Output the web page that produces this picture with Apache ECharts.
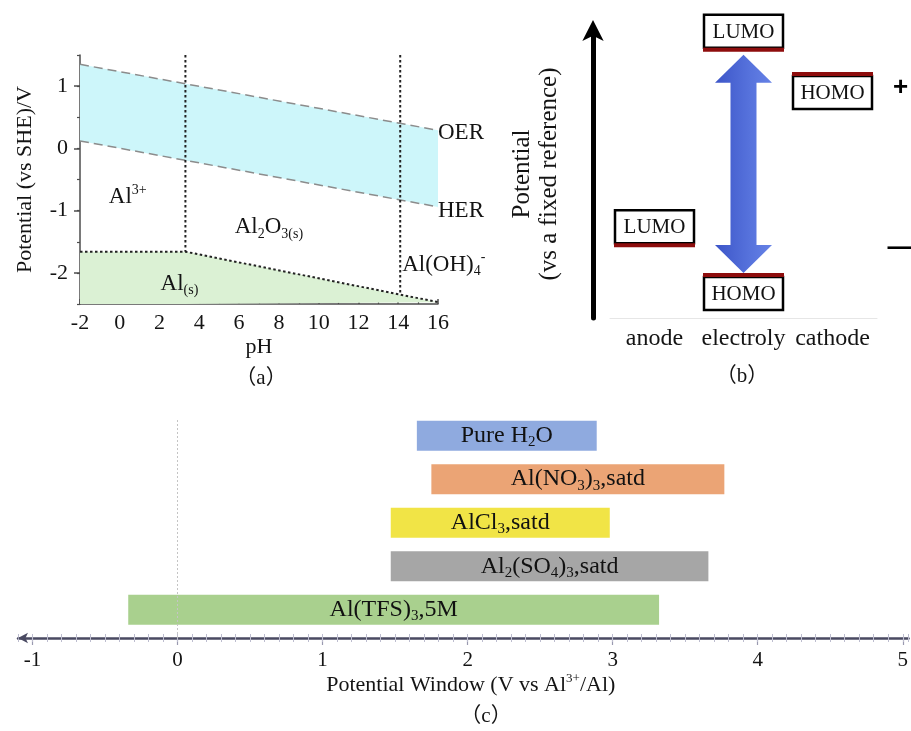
<!DOCTYPE html>
<html>
<head>
<meta charset="utf-8">
<script src="https://cdn.jsdelivr.net/npm/echarts@6/dist/echarts.min.js"></script>
<style>html,body{margin:0;padding:0;background:#fff}#c{width:911px;height:731px}</style>
</head>
<body>
<div id="c"></div>
<script>
// ---------- Panel (a): Pourbaix diagram ----------
const phRange = [-2, 16];
const oerPotential = [1.35, 0.29];
const herPotential = [0.12, -0.94];
const alBoundaryPH = [-2, 3.3, 16];
const alBoundaryE = [-1.66, -1.66, -2.47];
const dividerPH = [3.3, 14.1];
const dividerBottomE = [-1.66, -2.35];
const potentialTicks = [-2, -1, 0, 1];
const regionNames = ['{n|Al}{p|3+}', '{n|Al}{b|2}{n|O}{b|3(s)}', '{n|Al(OH)}{b|4}{p|-}', '{n|Al}{b|(s)}', '{n|OER}', '{n|HER}'];
const regionPH = [0.4, 7.5, 14.2, 3.0, 16, 16];
const regionE = [-0.78, -1.27, -1.87, -2.17, 0.25, -1.0];
const regionAlign = ['center', 'center', 'left', 'center', 'left', 'left'];

// ---------- Panel (b): energy levels ----------
const electrodeCats = ['anode', 'electroly', 'cathode'];
const orbitalNames = ['LUMO', 'HOMO', 'LUMO', 'HOMO'];
const orbitalSite = ['anode', 'electroly', 'electroly', 'cathode'];
const orbitalLevel = [2.53, 1.49, 9.31, 8.47];
const windowLow = 1.49;
const windowHigh = 9.31;
const signText = ['+', '\u2014'];
const signLevel = [7.99, 2.43];

// ---------- Panel (c): potential windows ----------
const electrolytes = ['{n|Al(TFS)}{s|3}{n|,5M}', '{n|Al}{s|2}{n|(SO}{s|4}{n|)}{s|3}{n|,satd}', '{n|AlCl}{s|3}{n|,satd}', '{n|Al(NO}{s|3}{n|)}{s|3}{n|,satd}', '{n|Pure H}{s|2}{n|O}'];
const windowStart = [-0.34, 1.47, 1.47, 1.75, 1.65];
const windowEnd = [3.32, 3.66, 2.98, 3.77, 2.89];
const barColors = ['#a9d08e', '#a6a6a6', '#f1e446', '#eba475', '#8faadf'];
const windowTicks = [-1, 0, 1, 2, 3, 4, 5];

const FONT = 'Liberation Serif';
const TXT = '#141414';

const chart = echarts.init(document.getElementById('c'), null, {renderer: 'canvas', width: 911, height: 731});

const richA = {
  n: {fontFamily: FONT, fontSize: 23, color: TXT, lineHeight: 28},
  b: {fontFamily: FONT, fontSize: 14, color: TXT, lineHeight: 10, verticalAlign: 'bottom'},
  p: {fontFamily: FONT, fontSize: 14, color: TXT, lineHeight: 16, verticalAlign: 'top'}
};

function bandRender(params, api) {
  const pts = [];
  for (let i = 0; i < phRange.length; i++) pts.push(api.coord([phRange[i], oerPotential[i]]));
  for (let i = phRange.length - 1; i >= 0; i--) pts.push(api.coord([phRange[i], herPotential[i]]));
  return {type: 'polygon', shape: {points: pts}, style: {fill: '#cdf6fa'}};
}

function arrowRender(params, api) {
  const lo = api.coord([api.value(0), api.value(1)]);
  const hi = api.coord([api.value(0), api.value(2)]);
  const cx = lo[0];
  const top = hi[1] + 5, bot = lo[1] - 2;
  const hw = 28.5, sw = 13, hh = 28;
  const pts = [[cx, top], [cx + hw, top + hh], [cx + sw, top + hh], [cx + sw, bot - hh], [cx + hw, bot - hh],
    [cx, bot], [cx - hw, bot - hh], [cx - sw, bot - hh], [cx - sw, top + hh], [cx - hw, top + hh]];
  return {type: 'polygon', shape: {points: pts}, style: {
    fill: {type: 'linear', x: 0, y: 0, x2: 1, y2: 0, global: false,
      colorStops: [{offset: 0, color: '#3c55c8'}, {offset: 0.6, color: '#5672dc'}, {offset: 1, color: '#6682e6'}]}
  }};
}

function orbitalRender(params, api) {
  const p = api.coord([api.value(0), api.value(1)]);
  const i = params.dataIndex;
  const isLumo = orbitalNames[i] === 'LUMO';
  const w = 79, h = 33;
  const boxY = isLumo ? p[1] - 2 - h : p[1] + 2;
  return {type: 'group', children: [
    {type: 'rect', shape: {x: p[0] - w / 2, y: boxY, width: w, height: h}, style: {fill: '#fff', stroke: '#000', lineWidth: 2.5}},
    {type: 'rect', shape: {x: p[0] - w / 2 - 1, y: p[1] - 2, width: w + 2, height: 4}, style: {fill: '#8e0d0d'}},
    {type: 'text', x: p[0], y: boxY + h / 2 + 1, style: {text: orbitalNames[i], font: '21px "Liberation Serif"', fill: '#111',
      align: 'center', verticalAlign: 'middle', textAlign: 'center', textVerticalAlign: 'middle'}}
  ]};
}

function barRender(params, api) {
  const i = params.dataIndex;
  const p0 = api.coord([api.value(1), api.value(0)]);
  const p1 = api.coord([api.value(2), api.value(0)]);
  const h = api.size([0, 1])[1] * 0.69;
  return {type: 'group', children: [
    {type: 'rect', shape: {x: p0[0], y: p0[1] - h / 2, width: p1[0] - p0[0], height: h}, style: {fill: barColors[i]}},
    {type: 'text', x: (p0[0] + p1[0]) / 2, y: p0[1], style: {
      text: electrolytes[i], align: 'center', verticalAlign: 'middle', textAlign: 'center', textVerticalAlign: 'middle',
      rich: {
        n: {fontFamily: FONT, fontSize: 24, fill: '#111', lineHeight: 28},
        s: {fontFamily: FONT, fontSize: 15, fill: '#111', lineHeight: 10, verticalAlign: 'bottom'}
      }
    }}
  ]};
}

const dottedBlack = {color: '#222', width: 2, type: [2.5, 2.5]};
const dashedGray = {color: '#8c8c8c', width: 1.5, type: [9, 5]};

const option = {
  animation: false,
  backgroundColor: '#fff',
  textStyle: {fontFamily: FONT},
  grid: [
    {left: 80, top: 55, width: 358, height: 249},
    {left: 610, top: 30, width: 267, height: 288},
    {left: 18, top: 420, width: 893, height: 218}
  ],
  xAxis: [
    {gridIndex: 0, type: 'value', position: 'bottom', min: phRange[0], max: phRange[1], interval: 2,
      axisLine: {onZero: false, lineStyle: {color: '#4d4d4d', width: 1.5}},
      axisTick: {inside: true, length: 5, lineStyle: {color: '#4d4d4d', width: 1.5}},
      minorTick: {show: true, splitNumber: 2, length: 3, lineStyle: {color: '#4d4d4d', width: 1.2}},
      axisLabel: {fontSize: 22, color: TXT, margin: 8, fontFamily: FONT},
      splitLine: {show: false},
      name: 'pH', nameLocation: 'middle', nameGap: 32, nameTextStyle: {fontSize: 22, color: TXT, fontFamily: FONT}},
    {gridIndex: 1, type: 'category', position: 'bottom', data: electrodeCats, boundaryGap: true,
      axisLine: {onZero: false, lineStyle: {color: '#e6e6e6', width: 1}}, axisTick: {show: false},
      axisLabel: {fontSize: 24, color: TXT, margin: 9, fontFamily: FONT, interval: 0}},
    {gridIndex: 2, type: 'value', position: 'bottom', min: -1.1, max: 5.04,
      axisLine: {onZero: false, symbol: ['arrow', 'none'], symbolSize: [8, 10], lineStyle: {color: '#4a4a62', width: 2.5}},
      axisTick: {customValues: windowTicks, length: 7, lineStyle: {color: '#9a9ab0', width: 1.2}},
      axisLabel: {customValues: windowTicks, fontSize: 21, color: TXT, margin: 12, fontFamily: FONT},
      splitLine: {show: false},
      name: '{n|Potential Window (V vs Al}{p|3+}{n|/Al)}', nameLocation: 'middle', nameGap: 34,
      nameTextStyle: {padding: [0, 0, 0, 15], rich: {
        n: {fontFamily: FONT, fontSize: 22, color: TXT, lineHeight: 26},
        p: {fontFamily: FONT, fontSize: 13, color: TXT, lineHeight: 14, verticalAlign: 'top'}
      }}},
    {gridIndex: 2, type: 'value', position: 'bottom', min: -1.1, max: 5.04, interval: 0.1, offset: 4,
      axisLine: {show: false, onZero: false},
      axisTick: {show: true, inside: true, length: 8, lineStyle: {color: '#bdbdcf', width: 1}},
      axisLabel: {show: false}, splitLine: {show: false}}
  ],
  yAxis: [
    {gridIndex: 0, type: 'value', position: 'left', min: -2.5, max: 1.5, interval: 0.5,
      axisLine: {show: true, onZero: false, lineStyle: {color: '#4d4d4d', width: 1.5}},
      axisTick: {show: true, length: 3, lineStyle: {color: '#4d4d4d', width: 1.2}},
      axisLabel: {customValues: potentialTicks, fontSize: 22, color: TXT, margin: 12, fontFamily: FONT},
      splitLine: {show: false},
      name: 'Potential (vs SHE)/V', nameLocation: 'middle', nameGap: 44, nameTextStyle: {fontSize: 22, color: TXT, fontFamily: FONT}},
    {gridIndex: 0, type: 'value', position: 'left', min: -2.5, max: 1.5,
      axisLine: {show: false, onZero: false},
      axisTick: {show: true, customValues: potentialTicks, length: 6, lineStyle: {color: '#4d4d4d', width: 1.5}},
      axisLabel: {show: false}, splitLine: {show: false}},
    {gridIndex: 1, type: 'value', position: 'left', offset: 17, min: 0, max: 10,
      axisLine: {show: true, onZero: false, symbol: ['none', 'arrow'], symbolSize: [16, 21], symbolOffset: [0, 10],
        lineStyle: {color: '#000', width: 5}},
      axisTick: {show: false}, axisLabel: {show: false}, splitLine: {show: false},
      name: 'Potential\n(vs a fixed reference)', nameLocation: 'middle', nameGap: 30,
      nameTextStyle: {fontSize: 25, lineHeight: 27, color: TXT, fontFamily: FONT}},
    {gridIndex: 2, type: 'value', min: -0.65, max: 4.36, show: false}
  ],
  graphic: [
    {type: 'text', x: 261, y: 378, style: {text: '（a）', font: '21px "Liberation Serif", "Noto Sans CJK SC"', fill: TXT, align: 'center', verticalAlign: 'middle', textAlign: 'center', textVerticalAlign: 'middle'}},
    {type: 'text', x: 742, y: 376, style: {text: '（b）', font: '21px "Liberation Serif", "Noto Sans CJK SC"', fill: TXT, align: 'center', verticalAlign: 'middle', textAlign: 'center', textVerticalAlign: 'middle'}},
    {type: 'text', x: 486, y: 716, style: {text: '（c）', font: '21px "Liberation Serif", "Noto Sans CJK SC"', fill: TXT, align: 'center', verticalAlign: 'middle', textAlign: 'center', textVerticalAlign: 'middle'}}
  ],
  series: [
    {type: 'custom', name: 'water stability window', xAxisIndex: 0, yAxisIndex: 0, renderItem: bandRender,
      data: [[phRange[0], oerPotential[0]]], z: 1, silent: true},
    {type: 'line', name: 'Al(s)', xAxisIndex: 0, yAxisIndex: 0, symbol: 'none', z: 2, silent: true,
      data: alBoundaryPH.map((p, i) => [p, alBoundaryE[i]]),
      lineStyle: dottedBlack, areaStyle: {origin: 'start', color: '#dbf1d4', opacity: 1}},
    {type: 'line', name: 'OER', xAxisIndex: 0, yAxisIndex: 0, symbol: 'none', z: 3, silent: true,
      data: phRange.map((p, i) => [p, oerPotential[i]]), lineStyle: dashedGray},
    {type: 'line', name: 'HER', xAxisIndex: 0, yAxisIndex: 0, symbol: 'none', z: 3, silent: true,
      data: phRange.map((p, i) => [p, herPotential[i]]), lineStyle: dashedGray},
    ...dividerPH.map((p, i) => ({type: 'line', xAxisIndex: 0, yAxisIndex: 0, symbol: 'none', z: 3, silent: true,
      data: [[p, 1.5], [p, dividerBottomE[i]]], lineStyle: dottedBlack})),
    {type: 'scatter', xAxisIndex: 0, yAxisIndex: 0, symbolSize: 0, z: 5, silent: true, itemStyle: {opacity: 1},
      data: regionNames.map((n, i) => ({name: n, value: [regionPH[i], regionE[i]],
        label: {position: regionAlign[i] === 'left' ? 'right' : 'inside', distance: 0}})),
      label: {show: true, formatter: p => p.name, rich: richA, opacity: 1}},

    {type: 'custom', name: 'electrolyte window', xAxisIndex: 1, yAxisIndex: 2, renderItem: arrowRender,
      data: [['electroly', windowLow, windowHigh]], encode: {x: 0, y: [1, 2]}, z: 3, silent: true},
    {type: 'custom', name: 'orbitals', xAxisIndex: 1, yAxisIndex: 2, renderItem: orbitalRender,
      data: orbitalSite.map((s, i) => [s, orbitalLevel[i]]), encode: {x: 0, y: 1}, z: 4, silent: true},
    {type: 'scatter', xAxisIndex: 1, yAxisIndex: 2, symbolSize: 0, z: 5, silent: true, itemStyle: {opacity: 1},
      data: signText.map((t, i) => ({name: t, value: ['cathode', signLevel[i]]})),
      label: {show: true, position: 'inside', offset: [68, 0], formatter: p => p.name, opacity: 1,
        fontFamily: 'Liberation Sans', fontWeight: 'bold', fontSize: 26, color: '#000'}},

    {type: 'custom', name: 'potential windows', xAxisIndex: 2, yAxisIndex: 3, renderItem: barRender,
      data: electrolytes.map((e, i) => [i, windowStart[i], windowEnd[i]]), encode: {x: [1, 2], y: 0}, z: 3, silent: true,
      markLine: {silent: true, symbol: 'none', label: {show: false}, lineStyle: {color: '#c4c4c4', type: [2, 2], width: 1},
        data: [{xAxis: 0}]}}
  ]
};
chart.setOption(option);
</script>
</body>
</html>
